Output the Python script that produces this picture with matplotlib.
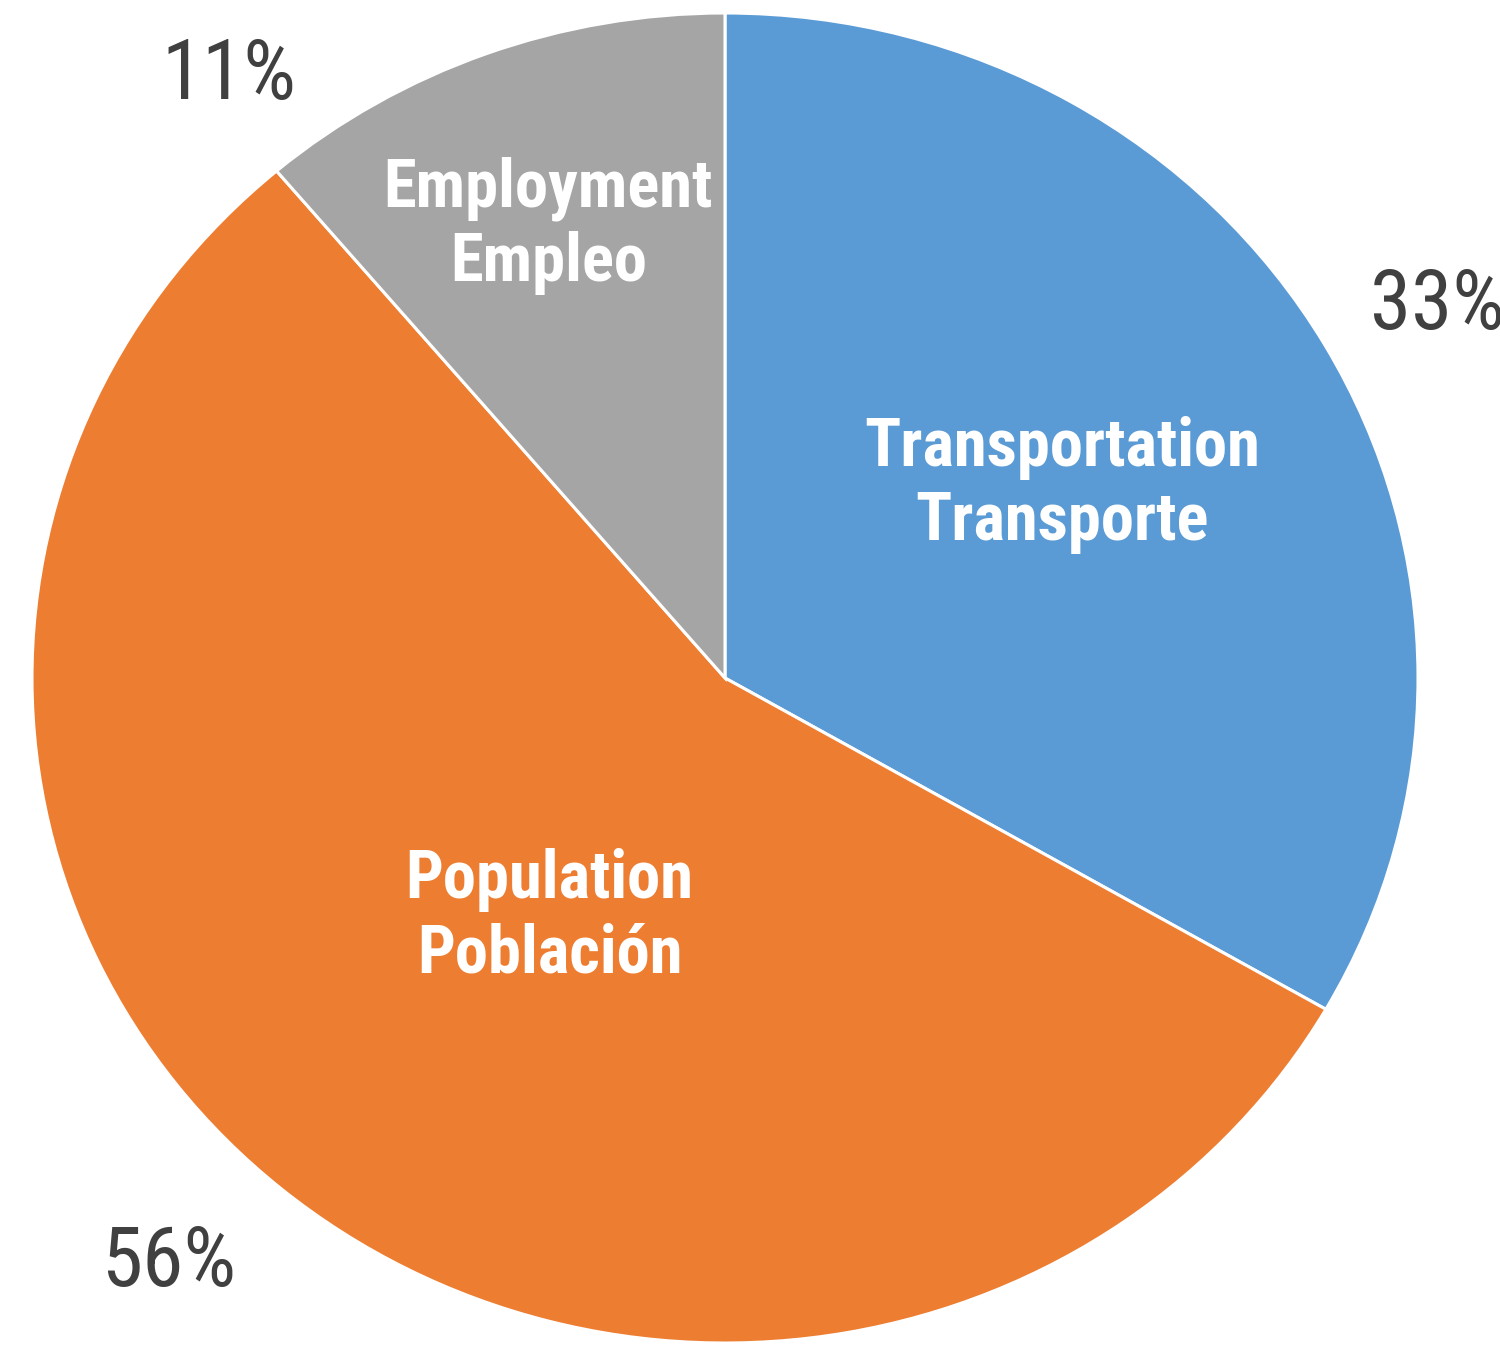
import matplotlib
matplotlib.use("Agg")
import matplotlib.pyplot as plt

categories = ["Transportation\nTransporte", "Population\nPoblación", "Employment\nEmpleo"]
shares = [33.3, 55.5, 11.2]
pctLabels = ["33%", "56%", "11%"]
colors = ["#5B9BD5", "#ED7D31", "#A5A5A5"]

# label spots in axes data units (pie ellipse spans -1..1)
innerPos = [(0.486, 0.29), (-0.253, -0.36), (-0.255, 0.68)]
outerPos = [(0.931, 0.56), (-0.90, -0.88), (-0.813, 0.906)]

plt.rcParams['font.family'] = ['Roboto Condensed', 'DejaVu Sans']

fig = plt.figure(figsize=(15, 13.47), dpi=100)
ax = fig.add_axes([32 / 1500, 4 / 1347, 1386 / 1500, 1330 / 1347])

ax.pie(shares, colors=colors, startangle=90, counterclock=False,
       wedgeprops=dict(edgecolor="white", linewidth=2.2))
ax.set_aspect("auto")
ax.set_xlim(-1, 1)
ax.set_ylim(-1, 1)

for label, (x, y) in zip(categories, innerPos):
    ax.text(x, y, label, ha="center", va="center", color="white",
            fontsize=48, fontweight="bold", linespacing=1.2)

for label, (x, y) in zip(pctLabels, outerPos):
    ax.text(x, y, label, ha="left", va="center", color="#404040",
            fontsize=60, clip_on=False)

fig.savefig("out.png", dpi=100)
